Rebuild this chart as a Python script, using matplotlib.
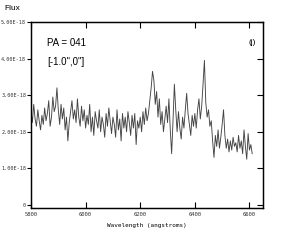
import numpy as np
import matplotlib
matplotlib.use('Agg')
import matplotlib.pyplot as plt

# spectrum sampled every 5 angstroms from 5800
wave_start = 5800
wave_step = 5
flux = [
    2.55, 2.25, 2.75, 2.35, 2.15, 2.60, 2.30, 2.05, 2.45, 2.20,
    2.65, 2.30, 2.50, 2.85, 2.15, 2.40, 2.95, 2.55, 2.70, 3.20,
    2.60, 2.20, 2.75, 2.35, 2.65, 2.05, 2.40, 1.75, 2.25, 2.55,
    2.85, 2.35, 2.60, 2.25, 2.90, 2.40, 2.15, 2.70, 2.30, 2.60,
    2.10, 2.45, 2.20, 2.75, 2.00, 2.40, 1.90, 2.55, 2.30, 2.10,
    2.60, 2.00, 2.40, 2.20, 1.85, 2.50, 2.15, 2.65, 2.30, 1.95,
    2.40, 2.20, 1.85, 2.60, 2.05, 2.35, 1.75, 2.50, 2.10, 2.40,
    2.00, 2.55, 2.25, 1.90, 2.45, 2.10, 2.50, 1.65, 2.30, 2.10,
    2.40, 2.00, 2.55, 2.20, 2.65, 2.30, 2.50, 2.85, 3.20, 3.65,
    3.40, 2.75, 3.10, 2.40, 2.90, 2.20, 2.55, 2.00, 2.35, 2.70,
    2.25, 2.90, 2.05, 1.40, 2.30, 3.30, 2.60, 2.00, 2.55, 2.10,
    1.80, 2.40, 2.10, 2.60, 3.05, 2.50, 2.20, 1.90, 2.45, 2.15,
    2.50, 2.10, 2.60, 2.90, 2.35, 2.70, 3.30, 3.95, 2.80, 2.40,
    2.60, 2.15, 2.30, 1.75, 1.30, 1.90, 1.60, 2.05, 1.55, 1.85,
    2.20, 2.60, 1.90, 1.55, 1.80, 1.45, 1.75, 1.50, 1.85, 1.60,
    1.70, 1.45, 1.90, 1.55, 1.75, 1.40, 2.05, 1.60, 1.25, 1.95,
    1.50, 1.65, 1.40,
]
flux = np.array(flux) * 1e-18
wave = wave_start + wave_step * np.arange(len(flux))

xticks = [5800, 6000, 6200, 6400, 6600]
yticks = [0, 1e-18, 2e-18, 3e-18, 4e-18, 5e-18]
ytick_labels = ['0', '1.00E-18', '2.00E-18', '3.00E-18', '4.00E-18', '5.00E-18']

fig = plt.figure(figsize=(2.98, 2.44), dpi=100)
ax = fig.add_axes([0.104, 0.148, 0.779, 0.762])

ax.plot(wave, flux, color='#444444', lw=0.65)

ax.set_xlim(5800, 6650)
ax.set_ylim(-0.08e-18, 5e-18)
ax.set_xticks(xticks)
ax.set_xticklabels([str(x) for x in xticks], family='DejaVu Sans Mono', fontsize=4, color='#333333')
ax.set_yticks(yticks)
ax.set_yticklabels(ytick_labels, family='DejaVu Sans Mono', fontsize=3.7, color='#333333')

ax.tick_params(axis='x', direction='in', length=4, width=0.8, top=True, pad=3)
ax.tick_params(axis='y', direction='out', length=3, width=0.8, pad=0.5)
# right side ticks point inward
ax2 = ax.twinx()
ax2.set_ylim(ax.get_ylim())
ax2.set_yticks(yticks)
ax2.set_yticklabels([])
ax2.tick_params(axis='y', direction='in', length=4, width=0.8)

for a in (ax, ax2):
    for s in a.spines.values():
        s.set_linewidth(0.9)

ax.set_xlabel('Wavelength (angstroms)', family='DejaVu Sans Mono', fontsize=4.3, labelpad=4)
fig.text(0.015, 0.965, 'Flux', fontsize=6, family='Liberation Sans', va='center')
ax.text(0.07, 0.885, 'PA = 041', transform=ax.transAxes, fontsize=7, family='Liberation Sans', va='center')
ax.text(0.07, 0.785, '[-1.0",0"]', transform=ax.transAxes, fontsize=7, family='Liberation Sans', va='center')
ax.text(0.935, 0.89, '(j)', transform=ax.transAxes, fontsize=6, family='Liberation Sans', va='center')

fig.savefig('out.png', dpi=100)
